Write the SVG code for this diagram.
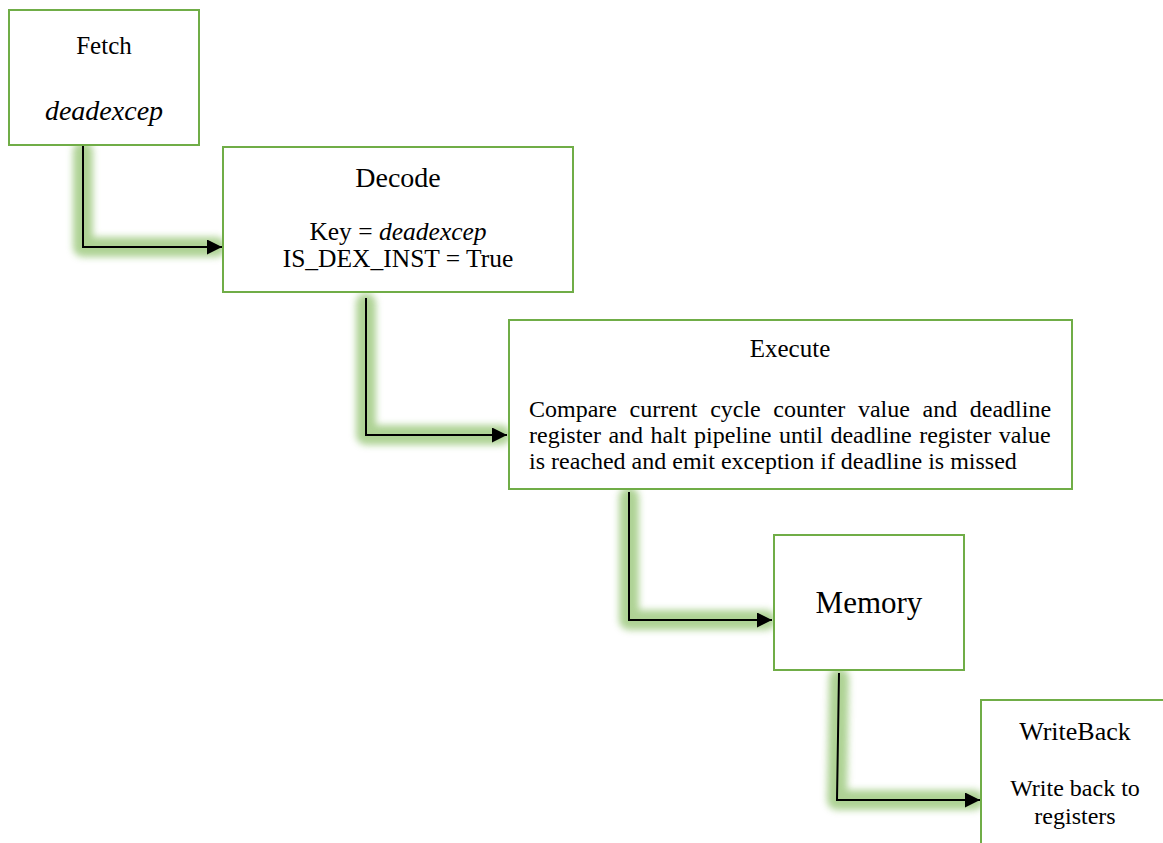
<svg xmlns="http://www.w3.org/2000/svg" width="1163" height="843" viewBox="0 0 1163 843">
  <style>
    .box { fill: #ffffff; stroke: #70ad47; stroke-width: 2; }
    .t { font-family: "Liberation Serif", "Times New Roman", serif; fill: #000000; }
    .c { text-anchor: middle; }
    .i { font-style: italic; }
    .glow { fill: none; stroke: #8cc068; stroke-width: 20; stroke-linecap: round; stroke-linejoin: round; opacity: 0.7; filter: url(#soft); }
    .wire { fill: none; stroke: #000000; stroke-width: 2; marker-end: url(#head); }
  </style>
  <defs>
    <filter id="soft" x="-50%" y="-50%" width="200%" height="200%">
      <feGaussianBlur stdDeviation="3.5"/>
    </filter>
    <marker id="head" viewBox="0 0 10 10" refX="10" refY="5" markerWidth="8" markerHeight="7.5" markerUnits="strokeWidth" orient="auto">
      <path d="M0,0 L10,5 L0,10 Z" fill="#000000"/>
    </marker>
  </defs>

  <rect width="1163" height="843" fill="#ffffff"/>

  <!-- stage-to-stage connectors with a soft green glow -->
  <g id="connectors">
    <path class="glow" d="M83,151 V247 H216"/>
    <path class="glow" d="M366,303 V435 H501"/>
    <path class="glow" d="M629,497 V620 H766"/>
    <path class="glow" d="M839,678 L837,800 H974"/>

    <path class="wire" d="M83,146 V247 H222"/>
    <path class="wire" d="M366,298 V435 H507"/>
    <path class="wire" d="M629,492 V620 H772"/>
    <path class="wire" d="M839,673 L837,800 H980"/>
  </g>

  <!-- pipeline stages -->
  <g id="fetch">
    <rect class="box" x="9" y="10" width="190" height="135"/>
    <text class="t c" x="104" y="54" font-size="25">Fetch</text>
    <text class="t c i" x="104" y="120" font-size="28">deadexcep</text>
  </g>

  <g id="decode">
    <rect class="box" x="223" y="147" width="350" height="145"/>
    <text class="t c" x="398" y="187" font-size="28">Decode</text>
    <text class="t c" x="398" y="240" font-size="25.5">Key = <tspan class="i">deadexcep</tspan></text>
    <text class="t c" x="398" y="267" font-size="25.5">IS_DEX_INST = True</text>
  </g>

  <g id="execute">
    <rect class="box" x="509" y="320" width="563" height="169"/>
    <text class="t c" x="790" y="357" font-size="25">Execute</text>
    <text class="t" x="529" y="417" font-size="24" word-spacing="6.6">Compare current cycle counter value and deadline</text>
    <text class="t" x="529" y="443" font-size="24" word-spacing="1.5">register and halt pipeline until deadline register value</text>
    <text class="t" x="529" y="469" font-size="24">is reached and emit exception if deadline is missed</text>
  </g>

  <g id="memory">
    <rect class="box" x="774" y="535" width="190" height="135"/>
    <text class="t c" x="869" y="613" font-size="31">Memory</text>
  </g>

  <g id="writeback">
    <rect class="box" x="981" y="700" width="200" height="160"/>
    <text class="t c" x="1075" y="740" font-size="26">WriteBack</text>
    <text class="t c" x="1075" y="796" font-size="24">Write back to</text>
    <text class="t c" x="1075" y="824" font-size="24">registers</text>
  </g>
</svg>
